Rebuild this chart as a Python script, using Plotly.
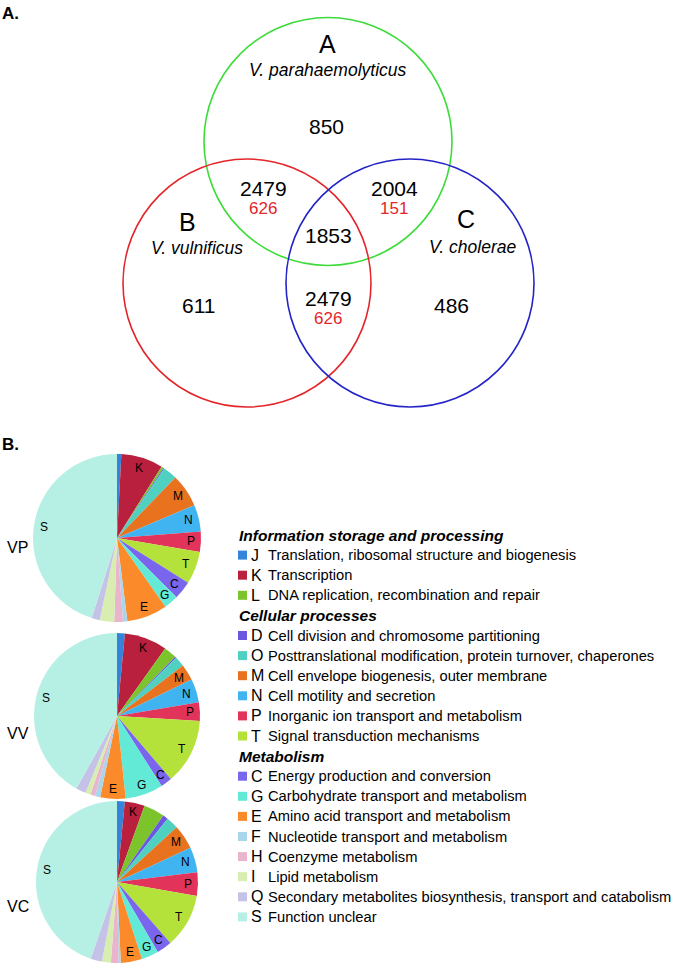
import math
import plotly.graph_objects as go

# ---------------- data ----------------
venn_sets = ["A", "B", "C"]
venn_species = ["V. parahaemolyticus", "V. vulnificus", "V. cholerae"]
venn_regions = ["A", "B", "C", "AB", "AC", "BC", "ABC"]
venn_counts = [850, 611, 486, 2479, 2004, 2479, 1853]
venn_red_counts = [None, None, None, 626, 151, 626, None]

cog_codes = ["J", "K", "L", "D", "O", "M", "N", "P", "T",
             "C", "G", "E", "F", "H", "I", "Q", "S"]
cog_desc = [
    "Translation, ribosomal structure and biogenesis",
    "Transcription",
    "DNA replication, recombination and repair",
    "Cell division and chromosome partitioning",
    "Posttranslational modification, protein turnover, chaperones",
    "Cell envelope biogenesis, outer membrane",
    "Cell motility and secretion",
    "Inorganic ion transport and metabolism",
    "Signal transduction mechanisms",
    "Energy production and conversion",
    "Carbohydrate transport and metabolism",
    "Amino acid transport and metabolism",
    "Nucleotide transport and metabolism",
    "Coenzyme metabolism",
    "Lipid metabolism",
    "Secondary metabolites biosynthesis, transport and catabolism",
    "Function unclear",
]
cog_groups = ["Information storage and processing", "Cellular processes", "Metabolism"]
cog_group_index = [0, 0, 0, 1, 1, 1, 1, 1, 1, 2, 2, 2, 2, 2, 2, 2, 2]
cog_colors = ["#3584dc", "#b8203e", "#7cc42c", "#6a58e0", "#4fd0c0", "#e8721e",
              "#40b4f0", "#e2345a", "#b4e23a", "#7a66ec", "#62ead6", "#fa8a2a",
              "#a9d6ea", "#eab4cc", "#d8eeb0", "#c4c2e6", "#b6f0e4"]

genomes = ["VP", "VV", "VC"]
vp_share = [3, 29, 1.5, 0.8, 9.7, 23, 18.6, 14, 22.6, 12.7, 10, 28, 3, 6, 10, 5.6, 162.5]
vv_share = [5.5, 30, 9, 1, 7, 11.5, 16.5, 13, 46, 8, 26.5, 17.7, 3.6, 3.4, 3.6, 7, 150.7]
vc_share = [5.6, 14.3, 15, 3.7, 8.8, 17.6, 18, 17, 38.8, 11, 12.3, 15.2, 1.6, 5.5, 6.3, 8.2, 161.1]
pie_labelled = ["K", "M", "N", "P", "T", "C", "G", "E", "S"]

# ---------------- layout (page pixels) ----------------
W, H = 685, 969
FONT = "Liberation Sans, Arial, Helvetica, sans-serif"

circle_geom = {"A": (328, 141.5, 124, "#3ddc3a"),
               "B": (247, 283, 124, "#e4252a"),
               "C": (410, 283, 124, "#2323c8")}
set_letter_pos = {"A": (327, 44), "B": (187, 222), "C": (466, 219)}
species_pos = {"A": (328, 70), "B": (197, 248), "C": (472, 247)}
region_pos = {"A": (326, 126), "B": (198, 305), "C": (451, 305),
              "AB": (263, 188), "AC": (394, 188), "BC": (328, 298),
              "ABC": (328, 235)}

pie_geom = [(117, 538, 84), (117, 716, 83), (117, 882, 81)]
genome_label_pos = [(5, 547), (5, 733), (5, 906)]

fig = go.Figure()
shapes = []
ann = []

def text(x, y, s, size, color="black", xanchor="center", yanchor="middle"):
    ann.append(dict(x=x, y=y, xref="x", yref="y", text=s, showarrow=False,
                    xanchor=xanchor, yanchor=yanchor,
                    font=dict(family=FONT, size=size, color=color)))

# panel labels
text(0, 13, "<b>A.</b>", 17, xanchor="left")
text(0, 444, "<b>B.</b>", 17, xanchor="left")

# Venn circles
for s in venn_sets:
    cx, cy, r, col = circle_geom[s]
    shapes.append(dict(type="circle", xref="x", yref="y",
                       x0=cx - r, x1=cx + r, y0=cy - r, y1=cy + r,
                       line=dict(color=col, width=1.6)))
for s, sp in zip(venn_sets, venn_species):
    x, y = set_letter_pos[s]
    text(x, y, s, 25)
    x, y = species_pos[s]
    text(x, y, "<i>" + sp + "</i>", 17.5)
for reg, n, red in zip(venn_regions, venn_counts, venn_red_counts):
    x, y = region_pos[reg]
    text(x, y, str(n), 21)
    if red is not None:
        text(x, y + 20, str(red), 17, color="#e4252a")

# pies
for g, share, (cx, cy, R), (lx, ly) in zip(genomes, [vp_share, vv_share, vc_share],
                                           pie_geom, genome_label_pos):
    fig.add_trace(go.Pie(
        labels=cog_codes, values=share, sort=False, direction="clockwise",
        rotation=0, textinfo="none", hoverinfo="label+percent",
        marker=dict(colors=cog_colors, line=dict(width=0)),
        domain=dict(x=[(cx - R) / W, (cx + R) / W],
                    y=[1 - (cy + R) / H, 1 - (cy - R) / H]),
        showlegend=False, name=g))
    total = sum(share)
    cum = 0.0
    for code, v in zip(cog_codes, share):
        mid = (cum + v / 2) / total * 2 * math.pi
        cum += v
        if code in pie_labelled:
            rr = 0.88 * R
            text(cx + rr * math.sin(mid), cy - rr * math.cos(mid), code, 12)
    text(lx, ly, g, 16, xanchor="left")

# legend
row_y0, row_dy = 535, 20.1
row = 0
last_group = None
for code, desc, gi, col in zip(cog_codes, cog_desc, cog_group_index, cog_colors):
    if gi != last_group:
        text(237, row_y0 + row * row_dy, "<b><i>" + cog_groups[gi] + "</i></b>", 15.5,
             xanchor="left")
        row += 1
        last_group = gi
    y = row_y0 + row * row_dy
    shapes.append(dict(type="rect", xref="x", yref="y", x0=238, x1=247,
                       y0=y - 4.5, y1=y + 4.5, line=dict(width=0), fillcolor=col))
    text(249, y, code, 16, xanchor="left")
    text(266, y, desc, 14.7, xanchor="left")
    row += 1

fig.update_layout(
    width=W, height=H, margin=dict(l=0, r=0, t=0, b=0),
    paper_bgcolor="white", plot_bgcolor="white",
    xaxis=dict(range=[0, W], visible=False, domain=[0, 1], fixedrange=True),
    yaxis=dict(range=[H, 0], visible=False, domain=[0, 1], fixedrange=True),
    shapes=shapes, annotations=ann, showlegend=False,
)
fig.write_html("out.html", config={"displayModeBar": False},
               post_script="document.body.style.margin='0';")
